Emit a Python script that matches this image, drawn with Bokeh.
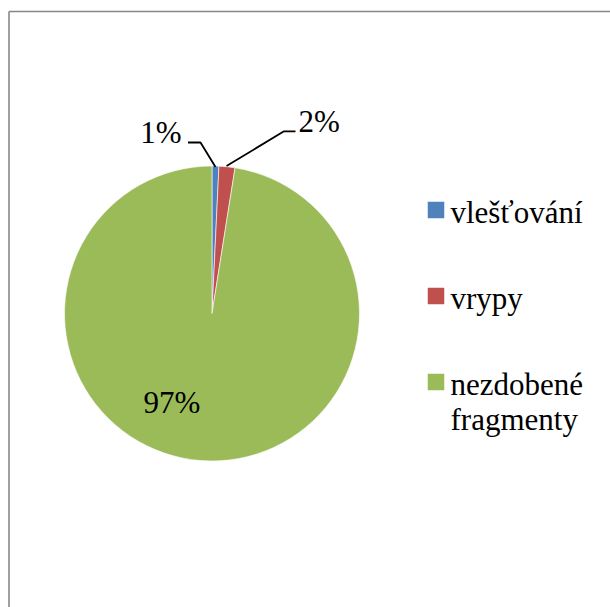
import math
from bokeh.plotting import figure
from bokeh.models import Range1d
from bokeh.core.properties import value
from bokeh.embed import file_html
from bokeh.resources import INLINE

categories = ["vlešťování", "vrypy", "nezdobené\nfragmenty"]
shares = [0.75, 1.75, 97.5]
labels = ["1%", "2%", "97%"]
colors = ["#4F81BD", "#C0504D", "#9BBB59"]

FONT = value("Liberation Serif")
FS = 31
MID = 0.3375 * FS  # baseline -> middle of em box

p = figure(width=610, height=607, output_backend="svg", toolbar_location=None,
           x_range=Range1d(0, 610), y_range=Range1d(-607, 0),
           min_border=0, outline_line_color=None)
p.axis.visible = False
p.grid.visible = False
p.background_fill_color = "white"
p.border_fill_color = "white"

# chart frame (left and top edges visible; the rest lies outside the window)
p.segment(x0=[8.5, 8.5], y0=[-11, -11], x1=[8.5, 640], y1=[-640, -11],
          line_color="#878787", line_width=1.6)

# pie
cx, cy, r = 211.5, -313, 147.5
total = sum(shares)
cum = 0.0
starts, ends = [], []
for s in shares:
    starts.append(math.pi / 2 - 2 * math.pi * cum / total)
    cum += s
    ends.append(math.pi / 2 - 2 * math.pi * cum / total)
p.wedge(x=[cx] * 3, y=[cy] * 3, radius=r, start_angle=starts, end_angle=ends,
        direction="clock", fill_color=colors, line_color="white", line_width=0.6)

# leader lines
p.line(x=[187.5, 200, 215], y=[-142, -142, -166.5], line_color="black", line_width=1.8)
p.line(x=[226, 283.5, 295], y=[-165.5, -130.8, -130.8], line_color="black", line_width=1.8)

# data labels (baselines 142, 131, 412)
lab_base = [142, 131, 412]
p.text(x=[181, 298, 143], y=[-(b - MID) for b in lab_base], text=labels,
       text_align=["right", "left", "left"], text_baseline="middle",
       text_font=FONT, text_font_size=f"{FS}px", text_color="black")

# legend
sq_c = [209.5, 295.5, 381.5]
p.rect(x=[435.5] * 3, y=[-c for c in sq_c], width=16.5, height=16.5,
       fill_color=colors, line_color=None)
leg_lines = []
leg_y = []
for cat, c in zip(categories, sq_c):
    for j, ln in enumerate(cat.split("\n")):
        leg_lines.append(ln)
        leg_y.append(-(c + 12.5 + 35 * j - MID))
p.text(x=[450] * len(leg_lines), y=leg_y, text=leg_lines, text_align="left",
       text_baseline="middle", text_font=FONT, text_font_size=f"{FS}px",
       text_color="black")

open("out.html", "w").write(file_html(p, INLINE))
